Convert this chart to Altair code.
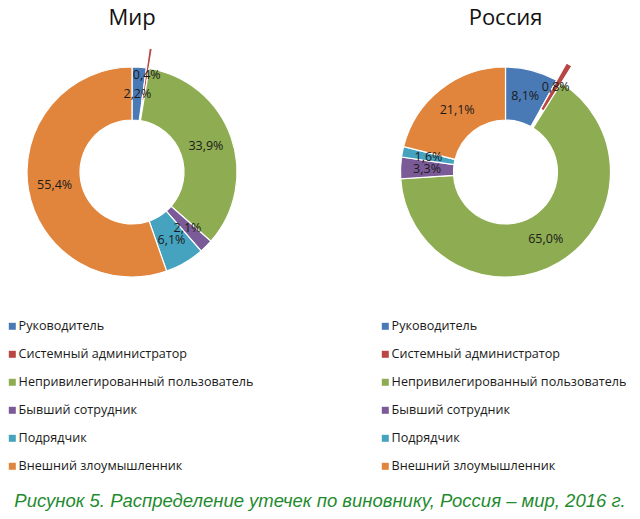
import altair as alt
import pandas as pd

categories = [
    "Руководитель",
    "Системный администратор",
    "Непривилегированный пользователь",
    "Бывший сотрудник",
    "Подрядчик",
    "Внешний злоумышленник",
]
mir_values = [2.2, 0.4, 33.9, 2.1, 6.1, 55.4]
rus_values = [8.1, 0.8, 65.0, 3.3, 1.6, 21.1]
panel_titles = ["Мир", "Россия"]
caption = "Рисунок 5. Распределение утечек по виновнику, Россия – мир, 2016 г."
exploded = "Системный администратор"

colors = ["#4a7ab6", "#b84744", "#8eac51", "#7a5b98", "#45a3bf", "#e1843c"]

W, H = 624, 503
OUT, INN, EXP = 105, 52, 20
LBL = (OUT + INN) / 2
FONT = "Open Sans"


def donut(values, title, cx, cy, legend_x):
    df = pd.DataFrame({"cat": categories, "v": values, "idx": list(range(len(categories)))})
    base = (
        alt.Chart(df)
        .transform_window(cum="sum(v)", sort=[alt.SortField("idx")], frame=[None, 0])
        .transform_joinaggregate(total="sum(v)")
        .transform_calculate(
            a0="(datum.cum - datum.v) / datum.total * 2 * PI",
            a1="datum.cum / datum.total * 2 * PI",
            am="(datum.cum - datum.v / 2) / datum.total * 2 * PI",
            ro=f"datum.cat === '{exploded}' ? {OUT + EXP} : {OUT}",
            ri=f"datum.cat === '{exploded}' ? {INN + EXP} : {INN}",
            lr=f"datum.cat === '{exploded}' ? {LBL + EXP} : {LBL}",
            lab="replace(format(datum.v, '.1f'), '.', ',') + '%'",
        )
    )
    arcs = base.mark_arc(stroke="white", strokeWidth=1.2).encode(
        theta=alt.Theta("a0:Q", scale=None, stack=None),
        theta2=alt.Theta2("a1:Q"),
        radius=alt.Radius("ro:Q", scale=None, stack=None),
        radius2=alt.Radius2("ri:Q"),
        x=alt.value(cx),
        y=alt.value(cy),
        color=alt.Color(
            "cat:N",
            scale=alt.Scale(domain=categories, range=colors),
            sort=categories,
            legend=alt.Legend(
                title=None,
                orient="none",
                legendX=legend_x,
                legendY=312,
                symbolType="square",
                symbolSize=49,
                symbolStrokeWidth=0,
                labelFont=FONT,
                labelFontSize=12.6,
                labelColor="#1a1a1a",
                labelOffset=0,
                rowPadding=15,
                padding=0,
                labelLimit=400,
            ),
        ),
    )
    labels = base.mark_text(font=FONT, fontSize=12.5, color="#1a1a1a").encode(
        theta=alt.Theta("am:Q", scale=None, stack=None),
        radius=alt.Radius("lr:Q", scale=None, stack=None),
        x=alt.value(cx),
        y=alt.value(cy),
        text="lab:N",
    )
    tdf = pd.DataFrame({"t": [title]})
    ttl = alt.Chart(tdf).mark_text(font=FONT, fontSize=22, color="#111111", baseline="alphabetic").encode(
        x=alt.value(cx), y=alt.value(17), text="t:N"
    )
    return alt.layer(arcs, labels, ttl)


mir = donut(mir_values, panel_titles[0], 124, 164, -2)
rus = donut(rus_values, panel_titles[1], 497.5, 164, 371)

cap = alt.Chart(pd.DataFrame({"c": [caption]})).mark_text(
    font="Liberation Sans", fontStyle="italic", fontSize=18.5, color="#1f8b2f", baseline="alphabetic"
).encode(x=alt.value(W / 2), y=alt.value(H - 4), text="c:N")

chart = (
    alt.layer(mir, rus, cap)
    .resolve_scale(color="independent")
    .properties(width=W, height=H, padding=0, autosize=alt.AutoSizeParams(type="none"))
    .configure_view(stroke=None)
)

chart.save("out.html", embed_options={"renderer": "svg", "actions": False})
